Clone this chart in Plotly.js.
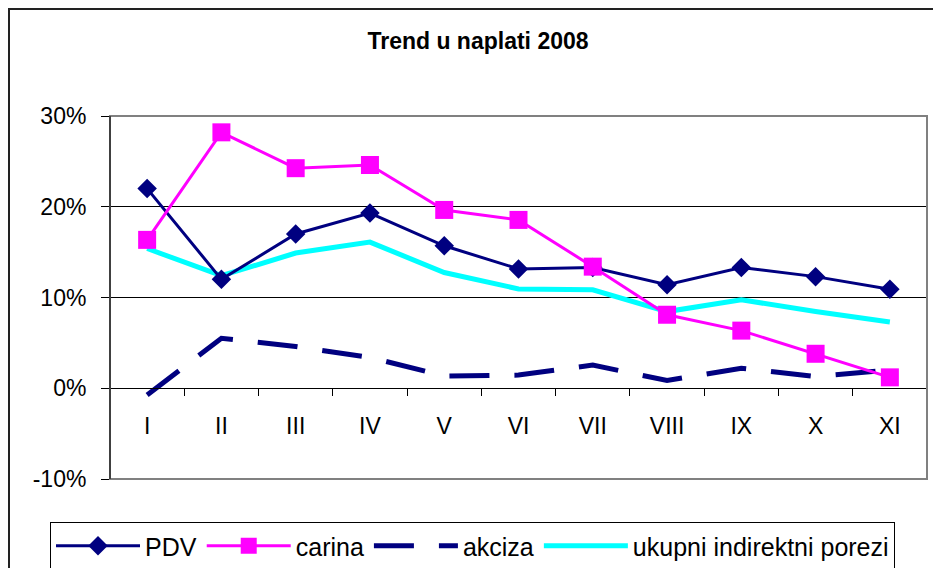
<!DOCTYPE html>
<html>
<head>
<meta charset="utf-8">
<script src="https://cdn.plot.ly/plotly-3.0.1.min.js"></script>
<style>html,body{margin:0;padding:0;background:#fff;}#chart{width:933px;height:568px;}</style>
</head>
<body>
<div id="chart"></div>
<script>
const months = ["I","II","III","IV","V","VI","VII","VIII","IX","X","XI"];
const pdv    = [22.0, 12.0, 17.0, 19.3, 15.7, 13.15, 13.3, 11.4, 13.3, 12.3, 10.9];
const carina = [16.35, 28.2, 24.25, 24.6, 19.65, 18.55, 13.4, 8.1, 6.35, 3.8, 1.2];
const akciza = [-0.75, 5.5, 4.6, 3.4, 1.35, 1.45, 2.55, 0.85, 2.2, 1.3, 2.0];
const ukupni = [15.4, 12.4, 14.9, 16.1, 12.75, 10.95, 10.85, 8.45, 9.75, 8.45, 7.3];
const yTicks = [-10, 0, 10, 20, 30];
const yTickText = ["-10%", "0%", "10%", "20%", "30%"];

const traces = [
  {x: months, y: ukupni, name: "ukupni indirektni porezi", mode: "lines",
   line: {color: "#00FFFF", width: 5}, legendrank: 4},
  {x: months, y: akciza, name: "akciza", mode: "lines",
   line: {color: "#000080", width: 5, dash: "40px,25px"}, legendrank: 3},
  {x: months, y: pdv, name: "PDV", mode: "lines+markers",
   line: {color: "#000080", width: 3},
   marker: {symbol: "diamond", size: 15, color: "#000080"}, legendrank: 1},
  {x: months, y: carina, name: "carina", mode: "lines+markers",
   line: {color: "#FF00FF", width: 3},
   marker: {symbol: "square", size: 18, color: "#FF00FF"}, legendrank: 2}
];

const W = 933, H = 568, L = 110, R = 6, T = 116, B = 89;
const pw = W - L - R, ph = H - T - B;
const px = v => (v - L) / pw;
const py = v => (H - B - v) / ph;

const layout = {
  width: W, height: H,
  margin: {l: L, r: R, t: T, b: B, autoexpand: false},
  paper_bgcolor: "#fff", plot_bgcolor: "#fff",
  font: {family: "Liberation Sans, Arial, sans-serif", color: "#000"},
  title: {text: "<b>Trend u naplati 2008</b>", font: {size: 23, family: "Liberation Sans, Arial, sans-serif", color: "#000"},
          x: 478 / W, xanchor: "center", xref: "container", y: 1 - 41 / H, yanchor: "middle", yref: "container"},
  xaxis: {type: "category", categoryarray: months, range: [-0.5, 10.5],
          anchor: "free", position: 0.25, showline: true, linecolor: "#000", linewidth: 1,
          tickson: "boundaries", ticks: "outside", ticklen: 7, tickcolor: "#000", tickwidth: 1,
          ticklabelstandoff: 17, showgrid: false, zeroline: false,
          tickfont: {size: 23, family: "Liberation Sans Narrow, Arial Narrow, Liberation Sans, sans-serif"}},
  yaxis: {range: [-10, 30], tickmode: "array", tickvals: yTicks, ticktext: yTickText, domain: [0, 1],
          showline: true, linecolor: "#000", linewidth: 1, mirror: false,
          ticks: "outside", ticklen: 8, tickcolor: "#000",
          ticklabelstandoff: 10,
          showgrid: true, gridcolor: "#000", gridwidth: 1, zeroline: false,
          tickfont: {size: 23}},
  showlegend: true,
  legend: {orientation: "h", x: px(50), xanchor: "left", y: py(522), yanchor: "top",
           bgcolor: "#fff", bordercolor: "#000", borderwidth: 1,
           font: {size: 25}, itemwidth: 84, traceorder: "normal", tracegroupgap: 0},
  shapes: [
    {type: "rect", xref: "paper", yref: "paper", x0: 0, x1: 1, y0: 0, y1: 1,
     line: {color: "#808080", width: 2}, layer: "above"},
    {type: "line", xref: "paper", yref: "paper", x0: 0, x1: 0, y0: 0, y1: 1,
     line: {color: "#000", width: 1}, layer: "above"},
    {type: "rect", xref: "paper", yref: "paper", x0: px(9), x1: px(945), y0: py(590), y1: py(9),
     line: {color: "#222", width: 2}, layer: "below"}
  ]
};

Plotly.newPlot("chart", traces, layout, {displayModeBar: false, staticPlot: true});
</script>
</body>
</html>
